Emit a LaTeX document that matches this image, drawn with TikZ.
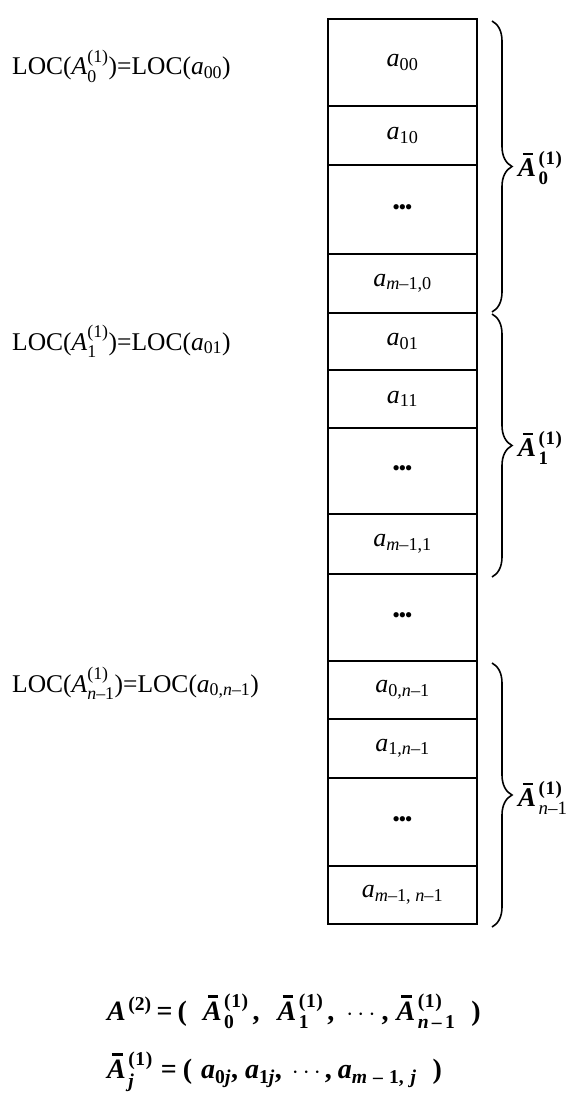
\documentclass[tikz,border=0pt]{standalone}
\usepackage{amsmath}
\usepackage{fontspec}
\setmainfont{Liberation Serif}
\usetikzlibrary{decorations.pathreplacing}
\newcommand\SSc[2]{\ensuremath{^{\text{#1}}_{\text{#2}}}}
\newcommand\SSk[2]{\kern2.5pt\ensuremath{^{\text{#1}}_{\text{#2}}}}
\newcommand\Sb[1]{\ensuremath{_{\text{#1}}}}
\newcommand\BA{{\bfseries\itshape\rlap{\kern0.17em\rule[0.8em]{0.38em}{0.08em}}A}}
\newcommand\mn{\textit{m}–1}
\newcommand\nn{\textit{n}–1}
\newcommand\one{(\kern0.6pt1\kern0.6pt)}
\newcommand\bdots{{\fontsize{22}{24}\selectfont\textbullet\kern-1.5pt\textbullet\kern-1.5pt\textbullet}}
\newcommand\fdots{{\fontsize{25}{28}\selectfont$\cdots$}}
\begin{document}
\begin{tikzpicture}[x=1pt,y=-1pt,
  cell/.style={draw, line width=1.6pt, minimum width=149pt, inner sep=0pt, anchor=north,
    font=\fontsize{26}{30}\selectfont},
  loc/.style={anchor=base west, inner sep=0pt, font=\fontsize{25.5}{30}\selectfont},
  brc/.style={decorate, decoration={brace, amplitude=20pt}, line width=1.6pt},
  blab/.style={anchor=west, inner sep=0pt, font=\fontsize{27}{30}\selectfont\bfseries},
  formula/.style={anchor=base west, inner sep=0pt, font=\fontsize{28}{32}\selectfont\bfseries}]
\useasboundingbox (0,0) rectangle (588,1102);
% memory cells
\node[cell, minimum height=87pt] (c1) at (402.5,18) {\textit{a}\Sb{00}};
\node[cell, minimum height=59pt] (c2) at (402.5,105) {\textit{a}\Sb{10}};
\node[cell, minimum height=89pt] (c3) at (402.5,164) {\bdots};
\node[cell, minimum height=59pt] (c4) at (402.5,253) {\textit{a}\Sb{\mn,0}};
\node[cell, minimum height=57pt] (c5) at (402.5,312) {\textit{a}\Sb{01}};
\node[cell, minimum height=58pt] (c6) at (402.5,369) {\textit{a}\Sb{11}};
\node[cell, minimum height=86pt] (c7) at (402.5,427) {\bdots};
\node[cell, minimum height=60pt] (c8) at (402.5,513) {\textit{a}\Sb{\mn,1}};
\node[cell, minimum height=87pt] (c9) at (402.5,573) {\bdots};
\node[cell, minimum height=58pt] (c10) at (402.5,660) {\textit{a}\Sb{0,\nn}};
\node[cell, minimum height=59pt] (c11) at (402.5,718) {\textit{a}\Sb{1,\nn}};
\node[cell, minimum height=88pt] (c12) at (402.5,777) {\bdots};
\node[cell, minimum height=58pt] (c13) at (402.5,865) {\textit{a}\Sb{\mn, \nn}};
% left labels
\node[loc] (l1) at (12,75) {LOC(\textit{A}\SSc{(1)}{0})=LOC(\textit{a}\Sb{00})};
\node[loc] (l2) at (12,350) {LOC(\textit{A}\SSc{(1)}{1})=LOC(\textit{a}\Sb{01})};
\node[loc] (l3) at (12,692) {LOC(\textit{A}\SSc{(1)}{\nn})=LOC(\textit{a}\Sb{0,\nn})};
% braces
\coordinate (b1t) at (492,21);
\coordinate (b1b) at (492,312);
\coordinate (b2t) at (492,314);
\coordinate (b2b) at (492,577);
\coordinate (b3t) at (492,663);
\coordinate (b3b) at (492,927);
\draw[brc] (b1t) -- (b1b);
\draw[brc] (b2t) -- (b2b);
\draw[brc] (b3t) -- (b3b);
\node[blab] (r1) at (518,168) {\BA\SSk{\one}{0}};
\node[blab] (r2) at (518,448) {\BA\SSk{\one}{1}};
\node[blab] (r3) at (518,798) {\BA\SSk{\one}{\mdseries\nn}};
% formulas
\node[formula] (f1) at (107,1020) {\textit{A}\SSk{(2)}{}\hspace{5pt}=\hspace{5pt}\textup{(}\hspace{16pt}\BA\SSk{\one}{0}\hspace{4pt},\hspace{18pt}\BA\SSk{\one}{1}\hspace{4pt},\hspace{12pt}\fdots\hspace{2pt},\hspace{8pt}\BA\SSk{\one}{\textit{n}\,–\,1}\hspace{16pt}\textup{)}};
\node[formula] (f2) at (107,1078) {\BA\SSk{\one}{\textit{j}}\hspace{8pt}=\hspace{6pt}\textup{(}\hspace{9pt}\textit{a}\Sb{0\textit{j}},\hspace{7pt}\textit{a}\Sb{1\textit{j}},\hspace{10pt}\fdots,\hspace{6pt}\textit{a}\Sb{\textit{m}\hspace{6pt}–\hspace{6pt}1,\hspace{7pt}\textit{j}}\hspace{16pt}\textup{)}};
\end{tikzpicture}
\end{document}
